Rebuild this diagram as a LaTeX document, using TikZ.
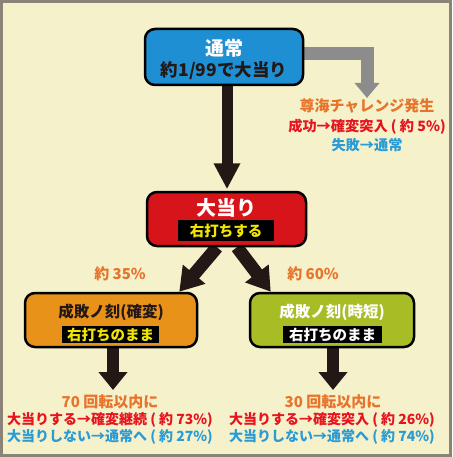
\documentclass[tikz,border=0pt]{standalone}
\usepackage{fontspec}
\setmainfont{Noto Sans CJK JP}
\usetikzlibrary{arrows.meta}
\definecolor{bgc}{HTML}{F5F1CB}
\definecolor{framec}{HTML}{8B8378}
\definecolor{bluebox}{HTML}{1E8FD2}
\definecolor{redbox}{HTML}{D7141A}
\definecolor{orangebox}{HTML}{E8921A}
\definecolor{greenbox}{HTML}{A8BC26}
\definecolor{darkarrow}{HTML}{231815}
\definecolor{grayarrow}{HTML}{8C8C8C}
\definecolor{orangetxt}{HTML}{E8732A}
\definecolor{redtxt}{HTML}{E5141E}
\definecolor{bluetxt}{HTML}{2A9BD5}
\definecolor{yellowtxt}{HTML}{F2E600}
\definecolor{darktxt}{HTML}{231815}
\pgfdeclarelayer{back}
\pgfdeclarelayer{arrowlayer}
\pgfsetlayers{back,arrowlayer,main}
\begin{document}
\begin{tikzpicture}[x=1pt,y=-1pt,
  box/.style={draw=black, line width=2.5pt, rounded corners=10pt, minimum width=#1, minimum height=54pt, inner sep=0pt},
  txt/.style={inner sep=0pt, font=\fontsize{#1}{#1}\selectfont\bfseries},
  tag/.style={fill=black, inner sep=0pt, minimum height=#1, font=\fontsize{14.5}{14.5}\selectfont\bfseries},
  fat/.style={line width=#1, color=darkarrow, line join=miter},
]
\useasboundingbox (0,0) rectangle (452,457);
\begin{pgfonlayer}{back}
\fill[bgc] (0,0) rectangle (452,457);
\draw[framec, line width=3pt] (1.5,1.5) rectangle (450.5,455.5);
\end{pgfonlayer}

% boxes
\node[box=158pt, fill=bluebox, minimum height=56pt] (normal) at (224,57) {};
\node[txt=19, text=white] (normalT) at (224,48) {通常};
\node[txt=17.5, text=darktxt] (normalS) at (224,71) {約1/99で大当り};

\node[box=159pt, fill=redbox] (hit) at (226.5,219) {};
\node[txt=20, text=white] (hitT) at (226,208) {大当り};
\node[tag=21pt, minimum width=96pt, text=yellowtxt] (hitL) at (226,230.5) {右打ちする};

\node[box=172pt, fill=orangebox] (kaku) at (111,320) {};
\node[txt=15.5, text=darktxt] (kakuT) at (111,312) {成敗ノ刻(確変)};
\node[tag=17.5pt, minimum width=97pt, text=yellowtxt] (kakuL) at (110.5,334.5) {右打ちのまま};

\node[box=164pt, fill=greenbox] (jitan) at (332,320) {};
\node[txt=15.5, text=white] (jitanT) at (332,312) {成敗ノ刻(時短)};
\node[tag=17.5pt, minimum width=99pt, text=white] (jitanL) at (332.5,334.5) {右打ちのまま};

% texts
\node[txt=15, text=orangetxt] (try1) at (367,106) {尊海チャレンジ発生};
\node[txt=14.2, text=redtxt] (try2) at (367,127) {成功→確変突入 ( 約 5\%)};
\node[txt=14.2, text=bluetxt] (try3) at (367,145) {失敗→通常};

\node[txt=15, text=orangetxt] (p35) at (120,274) {約 35\%};
\node[txt=15, text=orangetxt] (p60) at (313,274) {約 60\%};

\node[txt=15, text=orangetxt] (k1) at (110,402) {70 回転以内に};
\node[txt=14, text=redtxt] (k2) at (110,420) {大当りする→確変継続 ( 約 73\%)};
\node[txt=14, text=bluetxt] (k3) at (110,437) {大当りしない→通常へ ( 約 27\%)};

\node[txt=15, text=orangetxt] (j1) at (333,402) {30 回転以内に};
\node[txt=14, text=redtxt] (j2) at (332,420) {大当りする→確変突入 ( 約 26\%)};
\node[txt=14, text=bluetxt] (j3) at (332,437) {大当りしない→通常へ ( 約 74\%)};

% tips
\coordinate (tryTip) at (367,98);
\coordinate (kakuTip) at (113,390);
\coordinate (jitanTip) at (333,390);

\begin{pgfonlayer}{arrowlayer}
\draw[fat=11pt, -{Triangle[length=26pt,width=25pt]}, shorten >=1.5pt]
  ([xshift=3pt]normal.south) -- ([xshift=0.5pt]hit.north);
\draw[line width=13pt, color=grayarrow, line join=miter, -{Triangle[length=15pt,width=24pt]}]
  ([yshift=3pt]normal.east) -| (tryTip);
\draw[fat=13pt, -{Triangle[length=23pt,width=28pt]}]
  ([xshift=-9.5pt]hit.south) -- ([xshift=-19pt]kaku.north east);
\draw[fat=13pt, -{Triangle[length=23pt,width=28pt]}]
  ([xshift=10.5pt]hit.south) -- ([xshift=22pt]jitan.north west);
\draw[fat=12pt, -{Triangle[length=18pt,width=28pt]}]
  ([xshift=2pt]kaku.south) -- (kakuTip);
\draw[fat=12pt, -{Triangle[length=18pt,width=28pt]}]
  ([xshift=1pt]jitan.south) -- (jitanTip);
\end{pgfonlayer}
\end{tikzpicture}
\end{document}
